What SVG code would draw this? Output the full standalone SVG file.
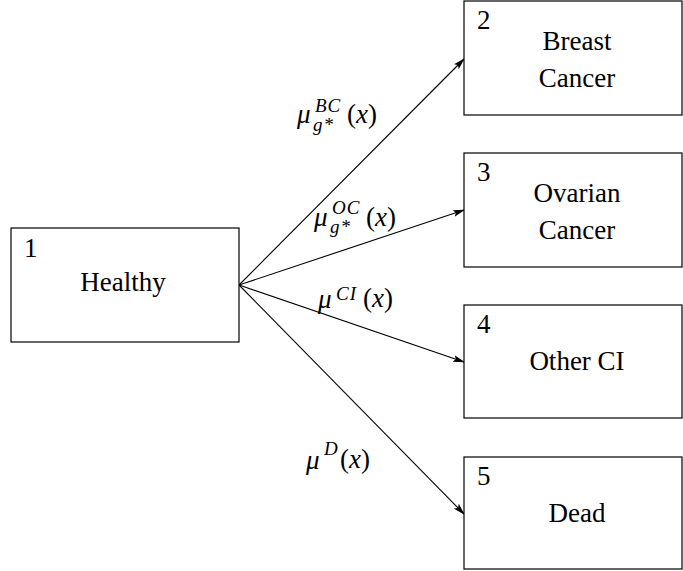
<svg xmlns="http://www.w3.org/2000/svg" width="683" height="571" viewBox="0 0 683 571">
<style>
.box{fill:#fff;stroke:#000;stroke-width:1.2}
.t{font-family:'Liberation Serif','DejaVu Serif',serif;font-size:27px;fill:#000}
.c{text-anchor:middle}
.m{font-family:'Liberation Serif','DejaVu Serif',serif;font-style:italic;fill:#000}
.s{font-size:19px;letter-spacing:1px}
.r{font-family:'Liberation Serif','DejaVu Serif',serif;fill:#000}
.e{stroke:#000;stroke-width:1.1;fill:none;marker-end:url(#ah)}
</style>
<defs>
<marker id="ah" viewBox="0 0 12 8" refX="11" refY="4" markerWidth="12" markerHeight="8" markerUnits="userSpaceOnUse" orient="auto">
<path d="M0,0.5 L12,4 L0,7.5 L2.5,4 Z" fill="#000"/>
</marker>
</defs>
<g id="connectors">
<line class="e" x1="239" y1="285" x2="464" y2="59"/>
<line class="e" x1="239" y1="285" x2="464" y2="210"/>
<line class="e" x1="239" y1="285" x2="464" y2="362"/>
<line class="e" x1="239" y1="285" x2="464" y2="514"/>
</g>
<g id="node1">
<rect class="box" x="11" y="228" width="228" height="114"/>
<text class="t" x="24" y="257">1</text>
<text class="t c" x="123" y="291">Healthy</text>
</g>
<g id="node2">
<rect class="box" x="464" y="1" width="218" height="114"/>
<text class="t" x="477" y="29">2</text>
<text class="t c" x="577" y="50">Breast</text>
<text class="t c" x="577" y="87">Cancer</text>
</g>
<g id="node3">
<rect class="box" x="464" y="153" width="218" height="114"/>
<text class="t" x="477" y="181">3</text>
<text class="t c" x="577" y="202">Ovarian</text>
<text class="t c" x="577" y="239">Cancer</text>
</g>
<g id="node4">
<rect class="box" x="464" y="305" width="218" height="113"/>
<text class="t" x="477" y="333">4</text>
<text class="t c" x="577" y="370">Other CI</text>
</g>
<g id="node5">
<rect class="box" x="464" y="457" width="218" height="112"/>
<text class="t" x="477" y="485">5</text>
<text class="t c" x="577" y="522">Dead</text>
</g>
<g id="labels">
<text class="m" x="297" y="123" font-size="27">μ</text>
<text class="m s" x="315" y="112">BC</text>
<text class="m s" x="313" y="131">g*</text>
<text class="r" x="347" y="123" font-size="27">(<tspan font-style="italic">x</tspan>)</text>

<text class="m" x="314" y="226" font-size="27">μ</text>
<text class="m s" x="332" y="214">OC</text>
<text class="m s" x="330" y="233">g*</text>
<text class="r" x="366" y="226" font-size="27">(<tspan font-style="italic">x</tspan>)</text>

<text class="m" x="318" y="308" font-size="27">μ</text>
<text class="m s" x="336" y="300">CI</text>
<text class="r" x="363" y="307" font-size="27">(<tspan font-style="italic">x</tspan>)</text>

<text class="m" x="306" y="469" font-size="27">μ</text>
<text class="m s" x="324" y="455">D</text>
<text class="r" x="340" y="468" font-size="27">(<tspan font-style="italic">x</tspan>)</text>
</g>
</svg>
